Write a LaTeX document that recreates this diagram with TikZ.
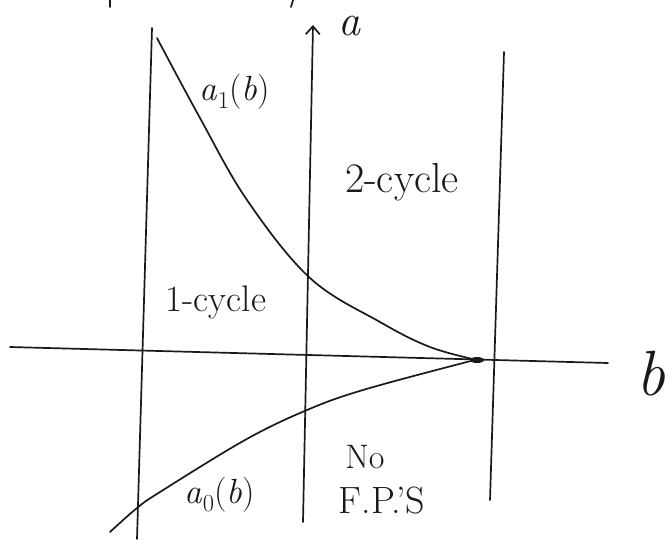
\documentclass[tikz,border=0pt]{standalone}
\usetikzlibrary{arrows.meta}
\begin{document}
\begin{tikzpicture}[x=1pt,y=-1pt,
  pen/.style={line width=1.7pt, line cap=round, line join=round, black!90},
  lbl/.style={inner sep=0pt, text=black!90}]
\useasboundingbox (0,0) rectangle (668,539);
% tiny cut-off strokes at top
\draw[pen] (110,0) -- (110,7);
\draw[pen] (293,0) -- (291,7);
% vertical lines
\coordinate (lt) at (152,28);
\coordinate (lb) at (137,539);
\draw[pen] (lt) -- (lb);
\coordinate (mt) at (313,25);
\coordinate (mb) at (303,522);
\draw[pen, -{Straight Barb[length=8pt,width=14pt]}] (mb) -- (mt);
\coordinate (rt) at (504,52);
\coordinate (rb) at (490,500);
\draw[pen] (rt) -- (rb);
% horizontal axis
\coordinate (hl) at (10,347);
\coordinate (hr) at (608,363);
\draw[pen] (hl) -- (hr);
% meeting point
\coordinate (p) at (477,360);
\fill[black!90] (p) ellipse (7pt and 3pt);
% curves
\draw[pen] plot[smooth, tension=0.6] coordinates {(157,38) (200,118) (247,200) (310,278) (380,322) (430,347) (477,360)};
\draw[pen] plot[smooth, tension=0.6] coordinates {(110,532) (137,508) (160,492) (245,440) (307,410) (363,390) (463,363) (477,360)};
% labels
\node[lbl, anchor=base, font=\fontsize{44}{44}\selectfont\itshape] (la) at (349,35) {a};
\node[lbl, anchor=base, font=\fontsize{64}{64}\selectfont\itshape] (lb2) at (651,395) {b};
\node[lbl, font=\fontsize{35}{35}\selectfont] (a1) at (235,92) {\textit{a}\textsubscript{1}(\textit{b})};
\node[lbl, font=\fontsize{35}{35}\selectfont] (a0) at (220,495) {\textit{a}\textsubscript{0}(\textit{b})};
\node[lbl, font=\fontsize{42}{42}\selectfont] (c2) at (402,182) {2-cycle};
\node[lbl, font=\fontsize{37}{37}\selectfont] (c1) at (216,302) {1-cycle};
\node[lbl, font=\fontsize{34}{34}\selectfont] (no) at (365,457) {No};
\node[lbl, font=\fontsize{38}{38}\selectfont] (fp) at (382,501) {F.P.'S};
\end{tikzpicture}
\end{document}
